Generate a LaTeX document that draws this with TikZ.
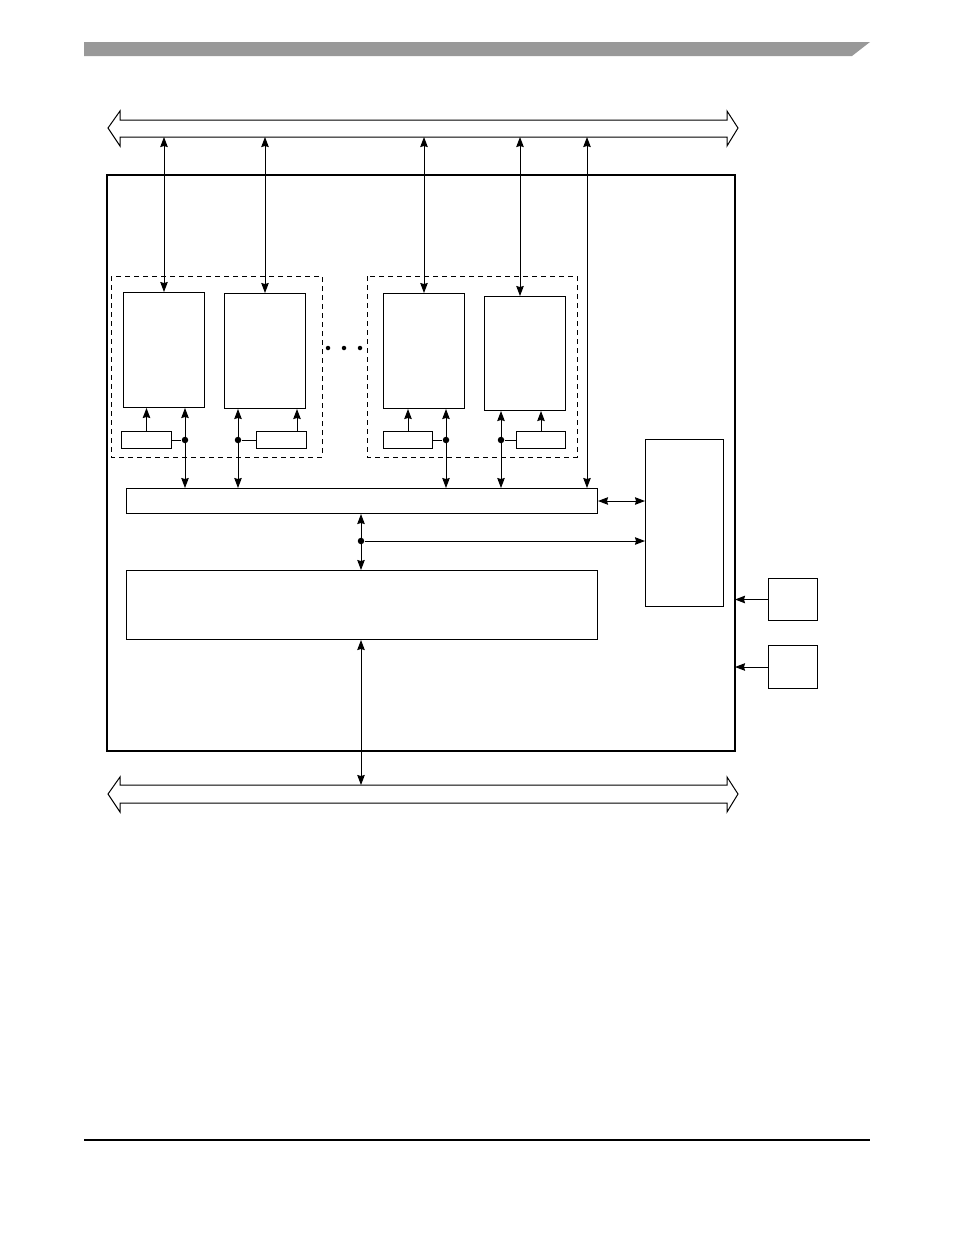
\documentclass[tikz,border=0pt]{standalone}
\usetikzlibrary{arrows.meta}
\begin{document}
\begin{tikzpicture}[x=1pt,y=-1pt,
  line width=1pt,
  >={Stealth[length=10pt,width=7.5pt,inset=1pt]},
  box/.style={draw,line width=1pt,rectangle,inner sep=0pt,anchor=north west},
  grp/.style={draw,line width=1pt,dash pattern=on 5pt off 4pt},
  dotc/.style={circle,fill,inner sep=0pt,minimum size=6.5pt}]
\useasboundingbox (0,0) rectangle (954,1235);
% header and footer
\fill[black!40] (84,42) -- (870,42) -- (852,56) -- (84,56) -- cycle;
\draw[line width=1.3pt] (84,1140) -- (870,1140);
% buses
\draw[line width=1pt] (108,128) -- (120,111) -- (120,120) -- (727,120) -- (727,111) -- (738,128) -- (727,146) -- (727,137) -- (120,137) -- (120,146) -- cycle;
\coordinate (tbus) at (400,137);
\draw[line width=1pt] (108,794) -- (120,777) -- (120,785) -- (727,785) -- (727,777) -- (738,794) -- (727,812) -- (727,803) -- (120,803) -- (120,812) -- cycle;
\coordinate (bbus) at (400,785);
% main box
\draw[line width=2pt] (107,175) rectangle (735,751);
\coordinate (mainE) at (735,600);
% groups
\draw[grp] (111,276) rectangle (322,457);
\draw[grp] (367,276) rectangle (577,457);
% cores
\node[box,minimum width=81pt,minimum height=115pt] (c1) at (123,292) {};
\node[box,minimum width=81pt,minimum height=115pt] (c2) at (224,293) {};
\node[box,minimum width=81pt,minimum height=115pt] (c3) at (383,293) {};
\node[box,minimum width=81pt,minimum height=114pt] (c4) at (484,296) {};
% small boxes
\node[box,minimum width=50pt,minimum height=17pt] (s1) at (121,431) {};
\node[box,minimum width=50pt,minimum height=17pt] (s2) at (256,431) {};
\node[box,minimum width=49pt,minimum height=17pt] (s3) at (383,431) {};
\node[box,minimum width=49pt,minimum height=17pt] (s4) at (516,431) {};
% bars
\node[box,minimum width=471pt,minimum height=25pt] (bar) at (126,488) {};
\node[box,minimum width=471pt,minimum height=69pt] (big) at (126,570) {};
\node[box,minimum width=78pt,minimum height=167pt] (rb) at (645,439) {};
\node[box,minimum width=49pt,minimum height=42pt] (r1) at (768,578) {};
\node[box,minimum width=49pt,minimum height=43pt] (r2) at (768,645) {};
% dots
\node[dotc] (d1) at (185,440) {};
\node[dotc] (d2) at (238,440) {};
\node[dotc] (d3) at (446,440) {};
\node[dotc] (d4) at (501,440) {};
\node[dotc] (d5) at (361,541) {};
\node[dotc,minimum size=4.5pt] (e1) at (328,348) {};
\node[dotc,minimum size=4.5pt] (e2) at (344,348) {};
\node[dotc,minimum size=4.5pt] (e3) at (360,348) {};
% top connectors
\draw[<->] (c1.north) -- (c1.north |- tbus);
\draw[<->] (c2.north) -- (c2.north |- tbus);
\draw[<->] (c3.north) -- (c3.north |- tbus);
\coordinate (c4t) at (520,296);
\draw[<->] (c4t) -- (c4t |- tbus);
\coordinate (x587) at (587,300);
\draw[<->] (x587 |- bar.north) -- (x587 |- tbus);
% small box to core
\draw[->] (s1.north) -- (s1.north |- c1.south);
\coordinate (s2a) at (297,431);
\draw[->] (s2a) -- (s2a |- c2.south);
\draw[->] (s3.north) -- (s3.north |- c3.south);
\draw[->] (s4.north) -- (s4.north |- c4.south);
\draw (s1.east) -- (d1);
\draw (s2.west) -- (d2);
\draw (s3.east) -- (d3);
\draw (s4.west) -- (d4);
\draw[<->] (d1 |- c1.south) -- (d1 |- bar.north);
\draw[<->] (d2 |- c2.south) -- (d2 |- bar.north);
\draw[<->] (d3 |- c3.south) -- (d3 |- bar.north);
\draw[<->] (d4 |- c4.south) -- (d4 |- bar.north);
% bar connections
\draw[<->] (bar.east) -- (bar.east -| rb.west);
\draw[<->] (d5 |- bar.south) -- (d5 |- big.north);
\draw[->] (d5) -- (d5 -| rb.west);
\draw[<->] (d5 |- big.south) -- (d5 |- bbus);
% right inputs
\draw[->] (r1.west) -- (r1.west -| mainE);
\draw[->] (r2.west) -- (r2.west -| mainE);
\end{tikzpicture}
\end{document}
